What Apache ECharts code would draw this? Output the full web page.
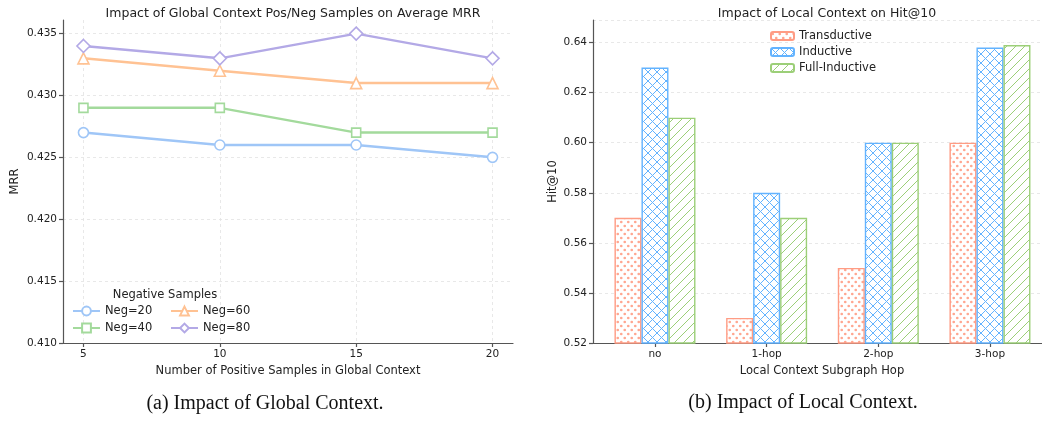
<!DOCTYPE html>
<html>
<head>
<meta charset="utf-8">
<script src="https://cdn.jsdelivr.net/npm/echarts@6/dist/echarts.min.js"></script>
<style>
html,body{margin:0;padding:0;background:#fff;}
#main{width:1042px;height:423px;}
</style>
</head>
<body>
<div id="main"></div>
<script>
// ---- Data: left chart (MRR vs positive samples) ----
const posSamples = [5, 10, 15, 20];
const neg20 = [0.427, 0.426, 0.426, 0.425];
const neg40 = [0.429, 0.429, 0.427, 0.427];
const neg60 = [0.433, 0.432, 0.431, 0.431];
const neg80 = [0.434, 0.433, 0.435, 0.433];
const mrrTicks = [0.410, 0.415, 0.420, 0.425, 0.430, 0.435];

// ---- Data: right chart (Hit@10 vs hop) ----
const hops = ['no', '1-hop', '2-hop', '3-hop'];
const transductive = [0.57, 0.53, 0.55, 0.60];
const inductive = [0.63, 0.58, 0.60, 0.638];
const fullInductive = [0.61, 0.57, 0.60, 0.639];

const FONT = 'DejaVu Sans';
const C_BLUE = '#9fc6f7', C_GREEN = '#a3da9c', C_ORANGE = '#ffc293', C_PURPLE = '#b3a9e6';
const E_SALMON = '#ff9c84', E_BLUE = '#63b3ff', E_GREEN = '#9ccf78';

function makePattern(kind, color) {
  const c = document.createElement('canvas');
  const ctx = c.getContext('2d');
  if (kind === 'dots') {
    c.width = 7; c.height = 8;
    ctx.fillStyle = '#fff'; ctx.fillRect(0, 0, 7, 8);
    ctx.fillStyle = color; ctx.globalAlpha = 0.9;
    [[1.75, 2], [5.25, 6]].forEach(p => { ctx.beginPath(); ctx.arc(p[0], p[1], 1.35, 0, Math.PI * 2); ctx.fill(); });
  } else if (kind === 'cross') {
    c.width = 9; c.height = 9;
    ctx.fillStyle = '#fff'; ctx.fillRect(0, 0, 9, 9);
    ctx.strokeStyle = color; ctx.lineWidth = 1;
    ctx.beginPath(); ctx.moveTo(0, 0); ctx.lineTo(9, 9); ctx.moveTo(9, 0); ctx.lineTo(0, 9); ctx.stroke();
  } else {
    c.width = 9; c.height = 9;
    ctx.fillStyle = '#fff'; ctx.fillRect(0, 0, 9, 9);
    ctx.strokeStyle = color; ctx.lineWidth = 1;
    ctx.beginPath(); ctx.moveTo(-1, 10); ctx.lineTo(10, -1); ctx.stroke();
  }
  return { image: c, repeat: 'repeat' };
}

function lineSeries(name, data, color, symbol, size) {
  return {
    type: 'line', name: name, xAxisIndex: 0, yAxisIndex: 0,
    data: posSamples.map((x, i) => [x, data[i]]),
    symbol: symbol, symbolSize: size, showSymbol: true,
    lineStyle: { color: color, width: 2.5 },
    itemStyle: { color: '#fff', borderColor: color, borderWidth: 1.6 },
    emphasis: { disabled: true }, z: 3
  };
}

function barSeries(name, data, edge, kind) {
  return {
    type: 'bar', name: name, xAxisIndex: 1, yAxisIndex: 1,
    data: data.map((v, i) => [i, v]),
    barWidth: 27, barGap: '0%',
    itemStyle: { color: makePattern(kind, edge), borderColor: edge, borderWidth: 1.4 },
    emphasis: { disabled: true }
  };
}

const axisLineStyle = { color: '#555', width: 1.2 };
const gridLine = { show: true, lineStyle: { color: '#e3e3e3', type: [3, 3], width: 0.8 } };
const labelStyle = { color: '#222', fontFamily: FONT, fontSize: 10.5 };
const legendText = { fontFamily: FONT, fontSize: 11.5, color: '#222' };

const option = {
  animation: false,
  backgroundColor: '#fff',
  title: [
    { text: 'Impact of Global Context Pos/Neg Samples on Average MRR', left: 288, top: 2, textAlign: 'center',
      textStyle: { fontFamily: FONT, fontSize: 12.5, fontWeight: 'normal', color: '#222' } },
    { text: 'Impact of Local Context on Hit@10', left: 822, top: 2, textAlign: 'center',
      textStyle: { fontFamily: FONT, fontSize: 12.5, fontWeight: 'normal', color: '#222' } },
    { text: 'Negative Samples', left: 160, top: 284, textAlign: 'center',
      textStyle: { fontFamily: FONT, fontSize: 11.5, fontWeight: 'normal', color: '#222' } },
    { text: '(a) Impact of Global Context.', left: 260, top: 389, textAlign: 'center',
      textStyle: { fontFamily: 'Liberation Serif', fontSize: 20, fontWeight: 'normal', color: '#111' } },
    { text: '(b) Impact of Local Context.', left: 798, top: 388, textAlign: 'center',
      textStyle: { fontFamily: 'Liberation Serif', fontSize: 20, fontWeight: 'normal', color: '#111' } }
  ],
  legend: [
    { data: ['Neg=20', 'Neg=40'], orient: 'vertical', left: 72, top: 305, padding: 0, itemWidth: 27, itemHeight: 11, itemGap: 5,
      textStyle: legendText, selectedMode: false },
    { data: ['Neg=60', 'Neg=80'], orient: 'vertical', left: 170, top: 305, padding: 0, itemWidth: 27, itemHeight: 11, itemGap: 5,
      textStyle: legendText, selectedMode: false },
    { data: ['Transductive', 'Inductive', 'Full-Inductive'], orient: 'vertical', left: 770, top: 30, padding: 0, itemWidth: 23, itemHeight: 8, itemGap: 4,
      textStyle: legendText, selectedMode: false }
  ],
  grid: [
    { left: 63, top: 20, width: 450, bottom: 80 },
    { left: 593, top: 20, right: 0, bottom: 80 }
  ],
  xAxis: [
    { type: 'value', gridIndex: 0, min: 4.25, max: 20.75,
      name: 'Number of Positive Samples in Global Context', nameLocation: 'middle', nameGap: 20,
      nameTextStyle: legendText,
      axisLine: { show: true, onZero: false, lineStyle: axisLineStyle },
      axisTick: { show: true, length: 4, customValues: posSamples, lineStyle: axisLineStyle },
      axisLabel: Object.assign({ customValues: posSamples, margin: 6 }, labelStyle),
      splitLine: gridLine },
    { type: 'value', gridIndex: 1, min: -0.555, max: 3.466,
      name: 'Local Context Subgraph Hop', nameLocation: 'middle', nameGap: 20,
      nameTextStyle: Object.assign({ padding: [0, 0, 0, 9] }, legendText),
      axisLine: { show: true, onZero: false, lineStyle: axisLineStyle },
      axisTick: { show: true, length: 4, customValues: [0, 1, 2, 3], lineStyle: axisLineStyle },
      axisLabel: Object.assign({ customValues: [0, 1, 2, 3], margin: 6, formatter: v => hops[Math.round(v)] }, labelStyle),
      splitLine: { show: false } }
  ],
  yAxis: [
    { type: 'value', gridIndex: 0, min: 0.410, max: 0.4361,
      name: 'MRR', nameLocation: 'middle', nameGap: 42,
      nameTextStyle: legendText,
      axisLine: { show: true, onZero: false, lineStyle: axisLineStyle },
      axisTick: { show: true, length: 4, customValues: mrrTicks, lineStyle: axisLineStyle },
      axisLabel: Object.assign({ customValues: mrrTicks, margin: 6, formatter: v => v.toFixed(3) }, labelStyle),
      splitLine: gridLine },
    { type: 'value', gridIndex: 1, min: 0.52, max: 0.649, interval: 0.02,
      name: 'Hit@10', nameLocation: 'middle', nameGap: 34,
      nameTextStyle: legendText,
      axisLine: { show: true, onZero: false, lineStyle: axisLineStyle },
      axisTick: { show: true, length: 4, lineStyle: axisLineStyle },
      axisLabel: Object.assign({ margin: 6, formatter: v => v.toFixed(2), showMaxLabel: false }, labelStyle),
      splitLine: gridLine }
  ],
  series: [
    lineSeries('Neg=20', neg20, C_BLUE, 'circle', 10),
    lineSeries('Neg=40', neg40, C_GREEN, 'rect', 9),
    lineSeries('Neg=60', neg60, C_ORANGE, 'triangle', 11),
    lineSeries('Neg=80', neg80, C_PURPLE, 'diamond', 13),
    barSeries('Transductive', transductive, E_SALMON, 'dots'),
    barSeries('Inductive', inductive, E_BLUE, 'cross'),
    barSeries('Full-Inductive', fullInductive, E_GREEN, 'diag')
  ]
};

const chart = echarts.init(document.getElementById('main'), null, { renderer: 'canvas' });
chart.setOption(option);
</script>
</body>
</html>
